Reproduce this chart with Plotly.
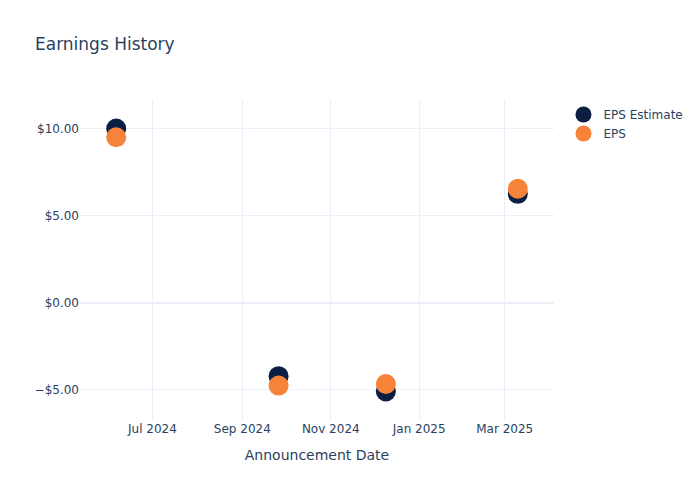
import plotly.graph_objects as go

dates = ['2024-06-06', '2024-09-26', '2024-12-09', '2025-03-10']
eps_estimate = [10.0, -4.22, -5.10, 6.25]
eps_actual = [9.50, -4.76, -4.67, 6.54]

fig = go.Figure()
fig.add_trace(go.Scatter(x=dates, y=eps_estimate, mode='markers', name='EPS Estimate',
                         marker=dict(color='#0b1f42', size=20)))
fig.add_trace(go.Scatter(x=dates, y=eps_actual, mode='markers', name='EPS',
                         marker=dict(color='#f7833a', size=20)))

fig.update_layout(
    template='plotly_white',
    title='Earnings History',
    font=dict(family='DejaVu Sans', color='#2a3f5f'),
    width=700,
    height=500,
    xaxis_title='Announcement Date',
    yaxis=dict(tickformat='$.2f'),
)

# drop the default page margin so the figure sits at the window's corner
fig.write_html('out.html', config={'displayModeBar': False},
               post_script="document.body.style.margin='0';")
